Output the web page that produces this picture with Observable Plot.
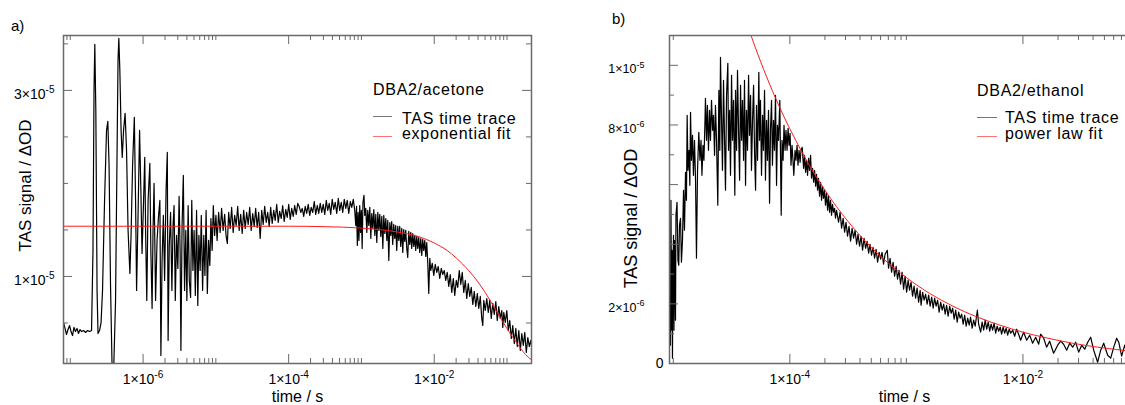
<!DOCTYPE html>
<html><head><meta charset="utf-8">
<script src="https://cdn.jsdelivr.net/npm/d3@7"></script>
<script src="https://cdn.jsdelivr.net/npm/@observablehq/plot@0.6"></script>
<style>
html,body{margin:0;padding:0;background:#fff;overflow:hidden;width:1125px;height:405px;}
#wrap{position:relative;width:1125px;height:405px;overflow:hidden;font-family:"Liberation Sans",Arial,sans-serif;color:#000;}
.panel{position:absolute;top:0;}
#overlay{position:absolute;left:0;top:0;pointer-events:none;}
</style></head><body><div id="wrap"></div>
<script>
// ---------- Panel a) DBA2/acetone : time (log10 s) and TAS signal (units of 1e-5 ΔOD) ----------
const logTimeA = [-7.093,-7.072,-7.052,-7.031,-7.010,-6.990,-6.969,-6.949,-6.928,-6.907,-6.887,-6.866,-6.845,-6.818,-6.790,-6.763,-6.735,-6.708,
-6.688,-6.674,-6.663,-6.649,-6.632,-6.619,-6.598,-6.577,-6.557,-6.529,-6.502,-6.484,-6.467,-6.447,-6.426,-6.406,-6.378,-6.357,-6.344,-6.333,
-6.319,-6.302,-6.286,-6.268,-6.247,-6.227,-6.206,-6.181,-6.165,-6.144,-6.120,-6.103,-6.089,-6.069,-6.048,-6.030,-6.014,-5.993,-5.977,-5.963,
-5.949,-5.931,-5.907,-5.893,-5.876,-5.863,-5.849,-5.828,-5.808,-5.787,-5.769,-5.755,-5.739,-5.721,-5.704,-5.684,-5.667,-5.656,-5.640,-5.622,
-5.604,-5.588,-5.574,-5.557,-5.540,-5.522,-5.505,-5.491,-5.480,-5.464,-5.447,-5.430,-5.413,-5.398,-5.381,-5.365,-5.347,-5.331,-5.315,-5.299,
-5.282,-5.265,-5.248,-5.233,-5.216,-5.200,-5.182,-5.166,-5.150,-5.134,-5.117,-5.100,-5.083,-5.068,-5.051,-5.035,-5.017,-4.999,-4.983,
-4.962,-4.941,-4.921,-4.900,-4.879,-4.859,-4.842,-4.824,-4.803,-4.783,-4.762,-4.742,-4.721,-4.700,-4.680,-4.659,-4.638,-4.618,-4.597,-4.577,
-4.556,-4.535,-4.515,-4.494,-4.473,-4.453,-4.432,-4.412,-4.391,-4.370,-4.350,-4.329,-4.308,-4.288,-4.267,-4.247,-4.226,-4.205,-4.185,-4.164,
-4.143,-4.123,-4.102,-4.082,-4.061,-4.040,-4.020,-3.999,-3.978,-3.958,-3.937,-3.917,-3.896,-3.875,-3.855,-3.834,
-3.813,-3.793,-3.772,-3.752,-3.731,-3.710,-3.690,-3.669,-3.648,-3.628,-3.607,-3.587,-3.566,-3.545,-3.525,-3.504,-3.483,-3.463,-3.442,-3.422,
-3.401,-3.380,-3.360,-3.339,-3.318,-3.298,-3.277,-3.257,-3.236,-3.215,-3.195,-3.174,-3.153,-3.133,-3.112,-3.092,
-3.078,-3.067,-3.056,-3.045,-3.034,-3.023,-3.012,-3.001,-2.990,-2.979,-2.965,
-2.954,-2.940,-2.926,-2.913,-2.899,-2.885,-2.871,-2.858,-2.844,-2.830,-2.816,-2.803,-2.789,-2.775,-2.761,-2.748,-2.734,-2.720,-2.706,-2.693,
-2.679,-2.665,-2.651,-2.638,-2.624,-2.610,-2.597,-2.584,-2.570,-2.556,-2.542,-2.529,-2.515,-2.501,-2.487,-2.474,-2.460,-2.446,-2.432,-2.419,
-2.405,-2.391,-2.377,-2.364,-2.350,-2.336,-2.322,-2.309,-2.295,-2.281,-2.267,-2.254,-2.240,-2.226,-2.213,-2.199,-2.185,-2.171,-2.158,-2.144,
-2.130,-2.116,-2.103,-2.089,-2.075,-2.061,-2.048,
-2.027,-2.006,-1.986,-1.965,-1.945,-1.924,-1.903,-1.883,-1.862,-1.842,-1.821,-1.800,-1.780,-1.759,-1.738,-1.718,-1.697,-1.677,-1.656,-1.635,
-1.615,-1.594,-1.573,-1.553,-1.532,-1.512,-1.491,-1.470,-1.450,-1.429,-1.408,-1.388,-1.367,-1.347,-1.333,-1.319,-1.299,-1.278,-1.257,-1.237,
-1.216,-1.196,-1.175,-1.154,-1.134,-1.113,-1.092,-1.072,-1.058,-1.044,-1.024,-1.003,-0.982,-0.962,-0.941,-0.921,-0.900,-0.879,-0.859,-0.838,
-0.817,-0.797,-0.776,-0.756,-0.735,-0.714,-0.694,-0.673,-0.659];
const signalA = [0.505,0.441,0.376,0.430,0.473,0.408,0.365,0.452,0.408,0.441,0.387,0.430,0.408,0.419,0.398,0.419,0.408,0.419,
1.280,3.000,3.495,2.785,0.849,0.387,0.419,0.505,0.849,1.817,2.570,2.667,2.193,0.903,0.043,-0.065,0.742,2.355,3.323,3.559,
3.215,2.570,2.280,2.570,2.753,2.355,1.495,1.032,1.441,2.193,2.710,1.817,0.849,1.656,2.570,1.925,1.247,1.817,2.280,1.387,
0.742,1.817,2.215,1.280,0.656,1.495,2.000,0.742,1.387,1.656,1.817,0.150,1.172,1.656,0.957,1.925,2.333,0.312,1.333,1.688,
0.849,1.548,1.763,0.742,1.441,1.086,1.860,1.280,0.204,1.548,2.086,0.849,1.495,0.742,1.763,0.957,0.774,1.817,1.064,1.495,
0.796,1.710,0.688,1.441,1.064,1.656,0.849,1.441,1.011,1.710,0.817,1.387,1.118,1.623,1.280,1.763,1.441,1.656,1.387,
1.688,1.473,1.731,1.495,1.667,1.430,1.355,1.688,1.516,1.742,1.473,1.656,1.548,1.753,1.495,1.667,1.462,1.710,1.516,1.688,
1.559,1.742,1.495,1.677,1.538,1.731,1.527,1.688,1.408,1.710,1.559,1.753,1.580,1.688,1.538,1.742,1.570,1.710,1.602,1.774,
1.580,1.699,1.623,1.763,1.591,1.720,1.634,1.774,1.613,1.731,1.645,1.763,1.667,1.785,1.753,1.688,
1.731,1.645,1.753,1.677,1.774,1.656,1.742,1.688,1.806,1.667,1.763,1.677,1.785,1.688,1.774,1.667,1.817,1.710,1.785,1.667,
1.828,1.720,1.796,1.677,1.839,1.710,1.796,1.688,1.828,1.731,1.817,1.677,1.806,1.742,1.828,1.710,
1.548,1.753,1.333,1.688,1.387,1.763,1.473,1.710,1.301,1.796,1.871,
1.656,1.731,1.473,1.710,1.548,1.742,1.408,1.677,1.516,1.720,1.441,1.667,1.365,1.688,1.495,1.667,1.430,1.645,1.301,1.656,
1.462,1.623,1.387,1.602,1.172,1.580,1.441,1.591,1.344,1.559,1.408,1.548,1.280,1.538,1.387,1.538,1.323,1.516,1.258,1.505,
1.376,1.495,1.301,1.204,1.484,1.344,1.473,1.301,1.462,1.323,1.441,1.280,1.430,1.301,1.419,1.258,1.408,1.226,1.398,1.280,
1.387,1.215,1.365,1.150,0.817,1.194,1.064,
1.140,1.011,1.129,1.043,1.107,0.978,1.086,1.021,1.064,0.957,1.043,0.892,1.021,0.828,0.978,0.796,0.957,0.882,1.064,0.914,
1.043,0.828,0.957,0.763,0.924,0.785,0.882,0.699,0.839,0.677,0.817,0.656,0.785,0.548,0.473,0.742,0.634,0.763,0.613,0.742,
0.548,0.710,0.591,0.731,0.527,0.677,0.548,0.634,0.452,0.613,0.505,0.634,0.419,0.527,0.333,0.473,0.279,0.441,0.247,0.419,
0.204,0.387,0.258,0.398,0.183,0.344,0.247,0.312,0.236];
const fitLogTimeA = [-7.1,-5.0,-4.0,-3.5,-3.0,-2.523,-2.222,-2.0,-1.824,-1.699,-1.523,-1.398,-1.301,-1.155,-1.0,-0.854,-0.745,-0.658];
const fitSignalA = [1.54,1.54,1.54,1.535,1.52,1.48,1.43,1.36,1.28,1.20,1.06,0.94,0.83,0.64,0.44,0.27,0.16,0.10];

// ---------- Panel b) DBA2/ethanol : time (log10 s) and TAS signal (units of 1e-6 ΔOD) ----------
const logTimeB = [-5.028,-5.024,-5.020,-5.015,-5.011,-5.007,-5.003,-4.998,-4.994,-4.990,
-4.981,-4.977,-4.968,-4.960,-4.953,-4.947,-4.938,-4.930,-4.921,-4.912,
-4.904,-4.895,-4.887,-4.881,-4.874,-4.865,-4.858,-4.852,-4.844,-4.835,
-4.827,-4.818,-4.809,-4.801,-4.792,-4.781,-4.771,-4.762,-4.754,-4.745,
-4.737,-4.728,-4.724,-4.715,-4.707,-4.698,-4.689,-4.681,-4.672,-4.663,
-4.655,-4.646,-4.638,-4.629,-4.618,-4.609,-4.601,-4.595,-4.586,-4.578,
-4.569,-4.560,-4.552,-4.543,-4.532,-4.526,-4.517,-4.509,-4.500,-4.492,
-4.483,-4.472,-4.466,-4.457,-4.449,-4.440,-4.431,-4.423,-4.414,-4.406,
-4.397,-4.389,-4.380,-4.372,-4.363,-4.354,-4.346,-4.337,-4.329,-4.320,
-4.311,-4.303,-4.294,-4.286,-4.277,-4.266,-4.260,-4.252,-4.243,-4.234,
-4.226,-4.217,-4.209,-4.200,-4.192,-4.183,-4.174,-4.166,-4.157,-4.149,
-4.140,-4.132,-4.123,-4.114,-4.106,-4.097,-4.086,-4.074,-4.067,-4.058,
-4.050,-4.041,-4.033,-4.024,-4.015,-4.007,-3.998,-3.990,-3.981,-3.973,
-3.966,-3.955,-3.947,-3.938,-3.930,-3.921,-3.912,-3.904,-3.894,-3.882,
-3.874,-3.865,-3.857,-3.848,-3.839,-3.831,-3.822,-3.814,-3.805,-3.796,
-3.788,-3.779,-3.771,-3.762,-3.754,-3.745,-3.736,-3.728,-3.719,-3.711,
-3.702,-3.694,-3.685,-3.676,-3.668,-3.659,-3.651,-3.642,-3.634,-3.625,
-3.616,-3.608,-3.599,-3.582,-3.569,-3.556,-3.543,-3.530,-3.518,-3.505,
-3.492,-3.479,-3.466,-3.453,-3.440,-3.427,-3.415,-3.402,-3.389,-3.376,
-3.363,-3.350,-3.337,-3.324,-3.312,-3.299,-3.286,-3.273,-3.260,-3.247,
-3.234,-3.221,-3.209,-3.196,-3.183,-3.164,-3.153,-3.140,-3.127,-3.114,
-3.101,-3.088,-3.076,-3.063,-3.050,-3.037,-3.024,-3.011,-2.998,-2.985,
-2.973,-2.960,-2.947,-2.934,-2.921,-2.908,-2.895,-2.882,-2.874,-2.861,
-2.848,-2.835,-2.822,-2.809,-2.796,-2.783,-2.770,-2.758,-2.745,-2.732,
-2.719,-2.706,-2.693,-2.680,-2.667,-2.655,-2.642,-2.629,-2.616,-2.603,
-2.590,-2.577,-2.564,-2.552,-2.539,-2.526,-2.513,-2.500,-2.487,-2.474,
-2.461,-2.449,-2.436,-2.423,-2.410,-2.391,-2.380,-2.363,-2.350,-2.337,
-2.324,-2.311,-2.298,-2.285,-2.273,-2.260,-2.247,-2.234,-2.221,-2.208,
-2.195,-2.183,-2.170,-2.157,-2.144,-2.131,-2.118,-2.105,-2.088,-2.071,
-2.054,-2.037,-2.020,-1.994,-1.968,-1.942,-1.917,-1.891,-1.865,-1.848,
-1.822,-1.797,-1.771,-1.737,-1.702,-1.676,-1.651,-1.625,-1.599,-1.573,
-1.548,-1.522,-1.496,-1.470,-1.444,-1.419,-1.393,-1.359,-1.333,-1.307,
-1.273,-1.247,-1.221,-1.196,-1.178,-1.153,-1.127,-1.110];
const signalB = [2.122,0.614,5.474,1.116,3.798,0.178,3.128,4.301,1.116,4.134,
1.452,4.971,5.407,3.463,3.296,4.636,4.871,3.396,4.134,5.810,
4.469,6.413,5.474,8.324,6.480,7.150,5.977,8.424,6.815,7.653,
6.312,7.486,6.145,3.530,6.480,7.754,6.815,7.486,6.312,7.318,
6.815,8.156,8.894,7.486,8.659,7.150,8.492,7.486,8.827,7.821,
8.324,6.983,8.659,7.486,5.307,9.162,7.150,10.268,8.156,6.480,
9.497,7.486,5.810,8.994,10.067,7.150,8.492,6.312,9.665,7.486,
8.827,5.642,9.162,7.150,9.832,7.821,6.145,9.330,7.486,8.827,
6.815,9.497,5.977,8.492,7.150,9.665,7.653,8.994,6.480,8.156,
9.330,7.150,5.810,8.659,6.815,9.765,7.486,8.827,6.312,8.324,
7.150,9.162,6.145,8.156,6.815,8.492,5.374,7.821,8.827,6.648,
8.156,7.150,8.994,5.977,7.989,7.486,8.827,4.971,7.486,6.815,
7.989,7.150,7.821,7.150,7.888,7.318,7.720,6.648,7.318,6.815,
6.312,7.150,6.815,7.318,6.648,7.150,6.748,7.150,7.251,6.547,
6.983,6.413,6.815,6.312,6.882,6.480,6.983,6.212,6.547,6.078,
6.480,5.944,6.346,5.810,6.212,5.609,6.078,5.474,5.944,5.541,
5.810,5.307,5.709,5.139,5.609,5.072,5.474,4.971,5.340,5.072,
5.206,4.871,5.139,4.737,5.072,4.536,4.871,4.402,4.737,4.268,
4.603,4.100,4.536,4.201,4.469,4.000,4.335,3.932,4.268,3.798,
4.201,3.865,4.100,3.698,4.000,3.631,3.899,3.530,3.832,3.396,
3.731,3.497,3.731,3.329,3.664,3.798,3.195,3.530,3.061,3.396,
2.927,3.262,2.826,3.128,2.659,3.061,2.491,2.927,2.390,2.793,
2.457,2.726,2.256,2.592,2.189,2.525,2.055,2.457,1.954,2.390,
2.122,2.323,1.988,2.290,1.921,2.223,1.854,2.189,1.921,2.122,
1.720,2.055,1.787,1.988,1.653,1.954,1.586,1.921,1.686,1.854,
1.485,1.787,1.385,1.720,1.519,1.653,1.318,1.619,1.250,1.519,
1.284,1.552,1.183,1.452,1.250,1.787,1.318,1.049,1.385,1.116,
1.452,1.150,1.385,1.083,1.318,1.116,1.351,1.016,1.250,1.083,
1.217,0.982,1.217,1.016,1.183,0.949,1.150,1.016,1.116,0.915,
1.150,0.982,0.781,1.049,0.781,0.949,0.681,0.882,0.647,0.982,
0.848,0.547,0.748,0.345,0.614,0.748,0.647,0.446,0.681,0.547,
0.714,0.379,0.614,0.480,0.714,0.882,0.446,0.044,0.446,0.681,
0.278,0.178,0.547,0.848,0.714,0.245,0.614,0.379];
const fitLogTimeB = [-4.35,-4.3,-4.2,-4.1,-4.0,-3.9,-3.8,-3.7,-3.6,-3.5,-3.4,-3.3,-3.2,-3.0,-2.8,-2.6,-2.4,-2.2,-2.0,-1.8,-1.6,-1.4,-1.2,-1.0];
const fitSignalB = [11.19,10.64,9.62,8.70,7.87,7.12,6.43,5.82,5.26,4.76,4.30,3.89,3.52,2.88,2.35,1.92,1.57,1.29,1.05,0.86,0.70,0.57,0.47,0.38];

// ---------- ticks and labels ----------
const xMajorA = [1e-6, 1e-4, 1e-2];
const xMinorA = [8e-8, 9e-8, 1e-7, 2e-6, 3e-6, 4e-6, 5e-6, 6e-6, 7e-6, 8e-6, 9e-6, 1e-5,
  2e-4, 3e-4, 4e-4, 5e-4, 6e-4, 7e-4, 8e-4, 9e-4, 1e-3, 2e-2, 3e-2, 4e-2, 5e-2, 6e-2, 7e-2, 8e-2, 9e-2, 1e-1];
const xLabelsA = ["1×10^-6", "1×10^-4", "1×10^-2"];
const yMajorA = [1e-5, 3e-5];
const yMinorA = [5e-6, 1.5e-5, 2e-5, 2.5e-5, 3.5e-5];
const yLabelsA = ["1×10^-5", "3×10^-5"];

const xMajorB = [1e-4, 1e-2];
const xMinorB = [1e-5, 2e-4, 3e-4, 4e-4, 5e-4, 6e-4, 7e-4, 8e-4, 9e-4, 1e-3,
  2e-2, 3e-2, 4e-2, 5e-2, 6e-2, 7e-2, 8e-2, 9e-2, 1e-1];
const xLabelsB = ["1×10^-4", "1×10^-2"];
const yMajorB = [0, 2e-6, 4e-6, 6e-6, 8e-6, 1e-5];
const yMinorB = [1e-6, 3e-6, 5e-6, 7e-6, 9e-6, 1.1e-5];
const yLabelTicksB = [2e-6, 8e-6, 1e-5];
const yLabelsB = ["2×10^-6", "8×10^-6", "1×10^-5"];

// ---------- build rows ----------
const rows = (lt, s, k) => lt.map((l, i) => ({t: 10 ** l, v: s[i] * k}));
const traceA = rows(logTimeA, signalA, 1e-5);
const fitA = rows(fitLogTimeA, fitSignalA, 1e-5);
const traceB = rows(logTimeB, signalB, 1e-6);
const fitB = rows(fitLogTimeB, fitSignalB, 1e-6);

const FONT = "'Liberation Sans', Arial, Helvetica, sans-serif";
const AX = "#6a6a6a";
const lab = (ticks, labels) => { const m = new Map(ticks.map((t, i) => [t, labels[i]])); return d => m.get(d); };

function tickMarks(xMaj, xMin, yMaj, yMin, fw, fh, xDom, yDom) {
  const inX = v => v >= xDom[0] && v <= xDom[1];
  const inY = v => v >= yDom[0] && v <= yDom[1];
  const o = {stroke: AX, strokeWidth: 1};
  const MJ = 9, MN = 5;
  return [
    Plot.tickX(xMaj.filter(inX), {x: d => d, insetTop: fh - MJ, ...o}),
    Plot.tickX(xMaj.filter(inX), {x: d => d, insetBottom: fh - MJ, ...o}),
    Plot.tickX(xMin.filter(inX), {x: d => d, insetTop: fh - MN, ...o}),
    Plot.tickX(xMin.filter(inX), {x: d => d, insetBottom: fh - MN, ...o}),
    Plot.tickY(yMaj.filter(inY), {y: d => d, insetRight: fw - MJ, ...o}),
    Plot.tickY(yMin.filter(inY), {y: d => d, insetRight: fw - MN, ...o}),
    Plot.tickY(yMaj.filter(inY), {y: d => d, insetLeft: fw - MJ, ...o}),
    Plot.tickY(yMin.filter(inY), {y: d => d, insetLeft: fw - MN, ...o})
  ];
}

function supify(svg) {
  svg.querySelectorAll("text").forEach(t => {
    const s = t.textContent;
    const m = s.match(/^(.*)\^(.*)$/);
    if (!m) return;
    t.textContent = m[1];
    const ts = document.createElementNS("http://www.w3.org/2000/svg", "tspan");
    ts.setAttribute("font-size", "0.72em");
    ts.setAttribute("dy", "-0.62em");
    ts.textContent = m[2];
    t.appendChild(ts);
  });
}

// ---------- panel a ----------
const xDomA = [8.07e-8, 0.217], yDomA = [6.45e-7, 3.59e-5];
const plotA = Plot.plot({
  width: 560, height: 405,
  marginLeft: 63, marginRight: 29, marginTop: 35, marginBottom: 42,
  style: {fontFamily: FONT, background: "transparent", color: "#000"},
  x: {type: "log", domain: xDomA, label: null},
  y: {type: "linear", domain: yDomA, label: null},
  marks: [
    Plot.line(traceA, {x: "t", y: "v", stroke: "#000", strokeWidth: 1.2, clip: true}),
    Plot.line(fitA, {x: "t", y: "v", stroke: "#ff1a1a", strokeWidth: 1, curve: "monotone-x", clip: true}),
    ...tickMarks(xMajorA, xMinorA, yMajorA, yMinorA, 468, 328, xDomA, yDomA),
    Plot.frame({stroke: AX, strokeWidth: 1.5}),
    Plot.axisX(xMajorA, {tickSize: 0, tickPadding: 11, tickFormat: lab(xMajorA, xLabelsA), fontSize: 14, label: null}),
    Plot.axisY(yMajorA, {tickSize: 0, tickPadding: 9, tickFormat: lab(yMajorA, yLabelsA), fontSize: 14, dy: 4, label: null}),
    Plot.text(["time / s"], {frameAnchor: "bottom", lineAnchor: "middle", dy: 33.5, fontSize: 16}),
    Plot.text(["TAS signal / ΔOD"], {frameAnchor: "left", textAnchor: "middle", lineAnchor: "middle", dx: -38, dy: -14, rotate: -90, fontSize: 17})
  ]
});

// ---------- panel b ----------
const xDomB = [9.28e-6, 0.1], yDomB = [0, 1.1e-5];
const plotB = Plot.plot({
  width: 580, height: 405,
  marginLeft: 109, marginRight: 1, marginTop: 35, marginBottom: 42,
  style: {fontFamily: FONT, background: "transparent", color: "#000"},
  x: {type: "log", domain: xDomB, label: null},
  y: {type: "linear", domain: yDomB, label: null},
  marks: [
    Plot.line(traceB, {x: "t", y: "v", stroke: "#000", strokeWidth: 1.2, clip: true}),
    Plot.line(fitB, {x: "t", y: "v", stroke: "#ff1a1a", strokeWidth: 1, curve: "monotone-x", clip: true}),
    ...tickMarks(xMajorB, xMinorB, yMajorB, yMinorB, 470, 328, xDomB, yDomB),
    Plot.frame({stroke: AX, strokeWidth: 1.5}),
    Plot.axisX(xMajorB, {tickSize: 0, tickPadding: 11, tickFormat: lab(xMajorB, xLabelsB), fontSize: 14, label: null}),
    Plot.axisY([0], {tickSize: 0, tickPadding: 6, tickFormat: () => "0", fontSize: 14, label: null}),
    Plot.axisY(yLabelTicksB, {tickSize: 0, tickPadding: 25, tickFormat: lab(yLabelTicksB, yLabelsB), fontSize: 12.5, dy: 4, label: null}),
    Plot.text(["time / s"], {frameAnchor: "bottom", lineAnchor: "middle", dy: 33.5, fontSize: 16}),
    Plot.text(["TAS signal / ΔOD"], {frameAnchor: "left", textAnchor: "middle", lineAnchor: "middle", dx: -38, dy: 19, rotate: -90, fontSize: 18})
  ]
});

const wrap = document.getElementById("wrap");
[plotA, plotB].forEach((p, i) => {
  p.classList.add("panel");
  p.style.left = i === 0 ? "0px" : "560px";
  p.style.maxWidth = "none";
  supify(p);
  wrap.appendChild(p);
});

// ---------- legends & panel letters (overlay) ----------
const legendA = {title: "DBA2/acetone", items: ["TAS time trace", "exponential fit"]};
const legendB = {title: "DBA2/ethanol", items: ["TAS time trace", "power law fit"]};
const NS = "http://www.w3.org/2000/svg";
const ov = document.createElementNS(NS, "svg");
ov.setAttribute("id", "overlay");
ov.setAttribute("width", 1125); ov.setAttribute("height", 405);
ov.style.fontFamily = FONT;
function txt(x, y, s, size, ls) {
  const t = document.createElementNS(NS, "text");
  t.setAttribute("x", x); t.setAttribute("y", y);
  t.setAttribute("font-size", size);
  if (ls) t.setAttribute("letter-spacing", ls);
  t.textContent = s; ov.appendChild(t);
}
function sw(x1, x2, y, color) {
  const l = document.createElementNS(NS, "line");
  l.setAttribute("x1", x1); l.setAttribute("x2", x2); l.setAttribute("y1", y); l.setAttribute("y2", y);
  l.setAttribute("stroke", color); l.setAttribute("stroke-width", 1);
  ov.appendChild(l);
}
txt(11, 31, "a)", 15);
txt(612, 24, "b)", 15);
txt(373, 95, legendA.title, 16, 0.7);
txt(402, 124, legendA.items[0], 16, 0.7);
txt(402, 139, legendA.items[1], 16, 0.7);
sw(373, 392, 116.5, "#777");
sw(373, 392, 136.5, "#ff7070");
txt(977, 96, legendB.title, 16, 0.7);
txt(1005, 123, legendB.items[0], 16, 0.7);
txt(1005, 139, legendB.items[1], 16, 0.7);
sw(977, 997, 117.5, "#777");
sw(977, 997, 136.5, "#ff7070");
wrap.appendChild(ov);
</script></body></html>
